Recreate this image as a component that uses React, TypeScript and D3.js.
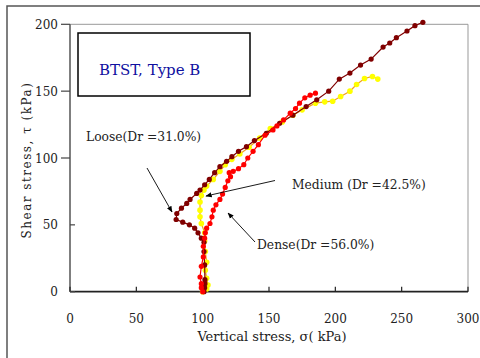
import React from "react";
import * as d3 from "d3";

// [vertical stress (kPa), shear stress (kPa)]
const loose: [number, number][] = [
  [101, 0], [101.5, 3], [101.7, 6], [101.7, 9], [101.5, 20], [101, 30], [101, 37],
  [99, 40], [96.5, 44], [94, 47.5], [90, 50], [85, 52], [80, 54], [80.5, 58.5],
  [84, 62.5], [88, 66], [90.5, 69], [95.5, 73.5], [98, 76], [101.5, 80], [105, 84],
  [109, 89], [113, 93.5], [118, 97.5], [122, 101], [127, 105], [133, 108.5],
  [139, 113], [148, 118.5], [158, 126], [168, 132], [178, 138.5], [186, 143.5],
  [195, 150], [203, 159], [211, 163.5], [219, 169.5], [227, 174], [236, 183],
  [241, 186], [246, 190], [254, 195], [260, 199], [266, 201.5],
];

const medium: [number, number][] = [
  [100, 0], [103, 2], [104, 5], [103, 10], [102, 16], [103, 22], [102, 30],
  [101.5, 38], [101.5, 44], [99, 51], [98, 56], [98, 61], [98, 67], [99, 72],
  [101, 76], [103, 79], [108, 84], [113, 90], [117, 95], [122, 99], [128, 103],
  [135, 108], [143, 115], [151, 122], [160, 127], [168, 132], [175, 136],
  [185, 141], [192, 142], [198, 142.5], [204, 146], [211, 150], [216, 155],
  [222, 159.5], [228, 161], [232, 159],
];

const dense: [number, number][] = [
  [100, 0], [99, 3], [99, 6], [98, 11], [99, 19], [100.5, 26], [100.5, 34],
  [101.5, 40], [102, 44], [103, 47.5], [105.5, 51], [107, 56], [108, 61],
  [110, 65], [113, 69], [115, 73], [117, 78], [119, 83], [121, 86], [120, 89],
  [123, 90], [127, 92], [131, 95], [134, 100], [138, 105], [142, 110], [147, 117],
  [153, 121], [156, 124], [161, 128.5], [166, 133.5], [170, 137], [173, 141],
  [177, 145], [181, 147], [185, 148.5],
];

const xTicks = [0, 50, 100, 150, 200, 250, 300];
const yTicks = [0, 50, 100, 150, 200];

const font = "'DejaVu Serif', serif";

const App = () => {
  const x = d3.scaleLinear().domain([0, 300]).range([70, 468]);
  const y = d3.scaleLinear().domain([0, 200]).range([291.7, 24.3]);
  const line = d3
    .line<[number, number]>()
    .x((d) => x(d[0]))
    .y((d) => y(d[1]));

  const series = [
    { data: medium, dot: "#ffff00", stroke: "#f0a020", r: 2.8 },
    { data: loose, dot: "#800000", stroke: "#800000", r: 2.6 },
    { data: dense, dot: "#ff0000", stroke: "#ff0000", r: 2.6 },
  ];

  return (
    <svg width={480} height={358} style={{ position: "absolute", left: 0, top: 0 }}>
      <defs>
        <marker id="arr" viewBox="0 0 10 10" refX="9" refY="5" markerWidth="7" markerHeight="7" orient="auto">
          <path d="M0,1 L10,5 L0,9 Z" fill="#000" />
        </marker>
      </defs>
      <rect x={0} y={0} width={480} height={358} fill="#fff" />
      {/* outer chart frame */}
      <rect x={7} y={6} width={500} height={400} fill="none" stroke="#555" strokeWidth={1.5} />

      {/* plot frame */}
      <line x1={x(0)} x2={x(300)} y1={y(200)} y2={y(200)} stroke="#999" />
      <line x1={x(300)} x2={x(300)} y1={y(200)} y2={y(0)} stroke="#999" />
      <line x1={x(0)} x2={x(0)} y1={y(200)} y2={y(0)} stroke="#555" strokeWidth={1.5} />
      <line x1={x(0)} x2={x(300)} y1={y(0)} y2={y(0)} stroke="#222" strokeWidth={1.8} />

      {xTicks.map((t) => (
        <g key={"x" + t}>
          <line x1={x(t)} x2={x(t)} y1={y(0)} y2={y(0) - 5} stroke="#222" strokeWidth={1.2} />
          <text x={x(t)} y={323} textAnchor="middle" fontFamily={font} fontSize={12} fill="#222">
            {t}
          </text>
        </g>
      ))}
      {yTicks.map((t) => (
        <g key={"y" + t}>
          <line x1={t >= 100 ? x(0) - 9 : x(0)} x2={t >= 100 ? x(0) : x(0) + 5} y1={y(t)} y2={y(t)} stroke="#444" strokeWidth={1.2} />
          <text x={58} y={y(t) + 4.5} textAnchor="end" fontFamily={font} fontSize={12} fill="#222">
            {t}
          </text>
        </g>
      ))}

      {/* series */}
      {series.map((s, i) => (
        <g key={i}>
          <path d={line(s.data) ?? ""} fill="none" stroke={s.stroke} strokeWidth={1.2} />
          {s.data.map((d, j) => (
            <circle key={j} cx={x(d[0])} cy={y(d[1])} r={s.r} fill={s.dot} />
          ))}
        </g>
      ))}

      {/* title box */}
      <rect x={78} y={33} width={172} height={63} fill="#fff" stroke="#000" strokeWidth={1.5} />
      <text x={99} y={75} fontFamily={font} fontSize={15} fill="#1010a0">
        BTST, Type B
      </text>

      {/* annotations */}
      <text x={86} y={141} fontFamily={font} fontSize={12.3} fill="#222">Loose(Dr =31.0%)</text>
      <line x1={147} y1={168} x2={172} y2={212} stroke="#000" strokeWidth={0.9} markerEnd="url(#arr)" />
      <text x={292} y={189} fontFamily={font} fontSize={12.3} fill="#222">Medium (Dr =42.5%)</text>
      <line x1={275} y1={180.5} x2={206} y2={196} stroke="#000" strokeWidth={0.9} markerEnd="url(#arr)" />
      <text x={257} y={249} fontFamily={font} fontSize={12.3} fill="#222">Dense(Dr =56.0%)</text>
      <line x1={255} y1={242} x2={228} y2={213} stroke="#000" strokeWidth={0.9} markerEnd="url(#arr)" />

      {/* axis titles */}
      <text x={272} y={341} textAnchor="middle" fontFamily={font} fontSize={13} fill="#222">
        Vertical stress, σ( kPa)
      </text>
      <text
        transform="translate(31,160) rotate(-90)"
        textAnchor="middle"
        fontFamily={font}
        fontSize={12}
        letterSpacing={1.5}
        fill="#222"
      >
        Shear stress, τ (kPa)
      </text>
    </svg>
  );
};

export default App;
